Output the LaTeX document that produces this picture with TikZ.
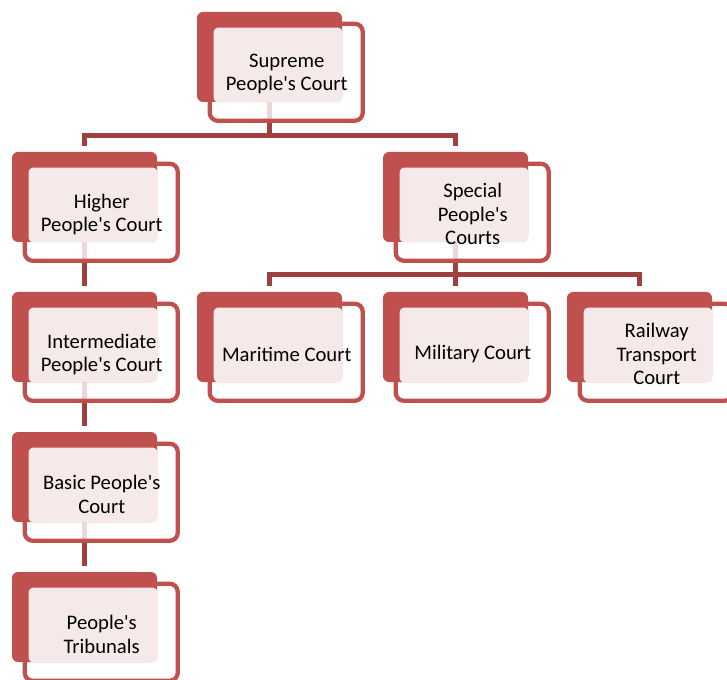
\documentclass[tikz,border=0pt]{standalone}
\usepackage{fontspec}
\newfontfamily\courtfont{Carlito}[Ligatures=TeXOff]
\definecolor{courtred}{HTML}{C0504D}
\definecolor{linkred}{HTML}{A0403E}
\definecolor{tintpink}{HTML}{F6E9E9}
\pgfdeclarelayer{links}
\pgfdeclarelayer{frames}
\pgfdeclarelayer{front}
\pgfsetlayers{links,frames,main,front}
\begin{document}
\begin{tikzpicture}[x=0.75pt,y=-0.75pt,
  card/.style={fill=courtred,rounded corners=4.5pt,minimum width=108.75pt,minimum height=67.5pt,inner sep=0pt},
  frame/.style={draw=courtred,line width=3.2pt,fill=white,fill opacity=0.8,rounded corners=6pt},
  tint/.style={fill=tintpink,rounded corners=3pt},
  lbl/.style={align=center,font=\courtfont\fontsize{15.5pt}{17.5pt}\selectfont},
  link/.style={draw=linkred,line width=3.75pt,shorten >=4.5pt}]
\useasboundingbox (0,0) rectangle (727,680);
\foreach \n/\x/\y/\t in {sup/269.5/57/{Supreme\\People's Court},
    hpc/84.5/197/{Higher\\People's Court}, spc/455.5/197/{Special\\People's\\Courts},
    ipc/84.5/337/{Intermediate\\People's Court}, bpc/84.5/477/{Basic People's\\Court},
    ptr/84.5/617/{People's\\Tribunals}, mar/269.5/337/{Maritime Court},
    mil/455.5/337/{Military Court}, rtc/639.5/337/{Railway\\Transport\\Court}} {
  \node[card] (\n) at (\x,\y) {};
  \begin{pgfonlayer}{frames}
  \draw[frame] ([shift={(13,12)}]\n.north west) rectangle ([shift={(166,109)}]\n.north west);
  \end{pgfonlayer}
  \begin{pgfonlayer}{front}
  \fill[tint] ([shift={(17,16)}]\n.north west) rectangle (\n.south east);
  \node[lbl] (\n t) at ([shift={(90,62.5)}]\n.north west) {\t};
  \end{pgfonlayer}
}
\begin{pgfonlayer}{links}
\draw[link] (sup) -- (sup |- 0,135.5) -| (hpc.north);
\draw[link] (sup |- 0,135.5) -| (spc.north);
\draw[link] (hpc) -- (ipc.north);
\draw[link] (ipc) -- (bpc.north);
\draw[link] (bpc) -- (ptr.north);
\draw[link] (spc) -- (spc |- 0,274.5) -| (mar.north);
\draw[link] (spc |- 0,274.5) -| (rtc.north);
\draw[link] (spc) -- (mil.north);
\end{pgfonlayer}
\end{tikzpicture}
\end{document}
